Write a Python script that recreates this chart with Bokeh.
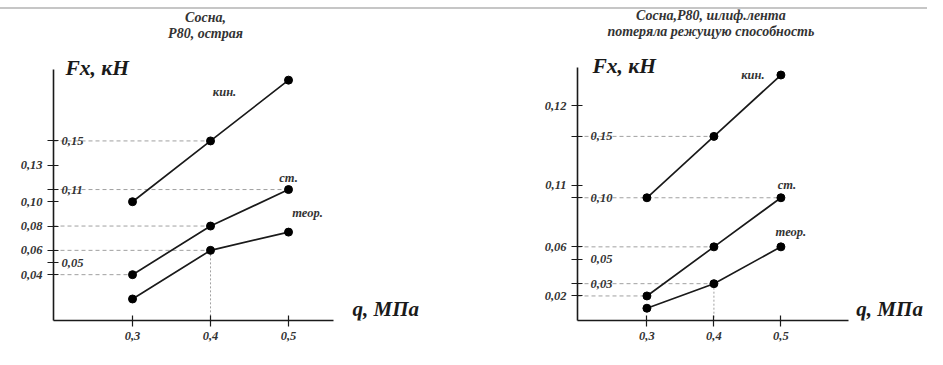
from bokeh.plotting import figure
from bokeh.models import FixedTicker, Range1d
from bokeh.layouts import row
from bokeh.embed import file_html
from bokeh.resources import INLINE
from bokeh.core.properties import value

# ---- data ----
q = [0.3, 0.4, 0.5]
q_tick_text = ["0,3", "0,4", "0,5"]

# left panel: "Сосна, Р80, острая"
a_kin = [0.10, 0.15, 0.20]
a_st = [0.04, 0.08, 0.11]
a_teor = [0.02, 0.06, 0.075]
a_left_vals = [0.04, 0.06, 0.08, 0.10, 0.13]
a_left_text = ["0,04", "0,06", "0,08", "0,10", "0,13"]
a_right_vals = [0.05, 0.11, 0.15]
a_right_text = ["0,05", "0,11", "0,15"]

# right panel: "Сосна,Р80, шлиф.лента потеряла режущую способность"
b_kin = [0.10, 0.15, 0.20]
b_st = [0.02, 0.06, 0.10]
b_teor = [0.01, 0.03, 0.06]
# the label "0,12" sits (out of scale) at the height of ~0.175 in the original drawing
b_left_vals = [0.02, 0.06, 0.11, 0.175]
b_left_text = ["0,02", "0,06", "0,11", "0,12"]
b_right_vals = [0.03, 0.05, 0.10, 0.15]
b_right_text = ["0,03", "0,05", "0,10", "0,15"]

names = ["кин.", "ст.", "теор."]
FONT = "Liberation Serif"
INK = "#1a1a1a"
GREY_TXT = "#333333"
GUIDE = "#a0a0a0"
TICK_FS = "12.5px"


def txt(p, x, y, t, dx, dy, size=TICK_FS, align="center", baseline="middle", color=GREY_TXT):
    p.text(x=x, y=y, text=t, x_offset=dx, y_offset=dy,
           text_font=value(FONT), text_font_style="bold italic",
           text_font_size=size, text_color=color,
           text_align=align, text_baseline=baseline)


def make_panel(width, height, xr, xaxis_end, yr, yaxis_end, borders, kin, st, teor,
               lv, lt, rv, rt, titles, title_off, lab_offs,
               fx_off, q_off, right_lab_dx):
    p = figure(width=width, height=height, output_backend="svg",
               toolbar_location=None, x_range=Range1d(*xr), y_range=Range1d(*yr),
               min_border_left=borders[0], min_border_right=borders[1],
               min_border_top=borders[2], min_border_bottom=borders[3],
               styles={"background": "linear-gradient(#ffffff 0px, #ffffff 7px, #c6c6c6 7px, "
                                     "#c6c6c6 9px, #ffffff 9px)"})
    p.grid.visible = False
    p.outline_line_color = None
    p.background_fill_color = None
    p.border_fill_color = None

    x0 = xr[0]
    y0 = yr[0]

    # axes
    for ax in (p.xaxis, p.yaxis):
        ax.axis_line_color = INK
        ax.axis_line_width = 1.6
        ax.major_tick_line_color = INK
        ax.minor_tick_line_color = INK
        ax.major_tick_line_width = 1.2
        ax.minor_tick_line_width = 1.2
        ax.major_tick_in = 5
        ax.major_tick_out = 6
        ax.minor_tick_in = 5
        ax.minor_tick_out = 6
        ax.major_label_text_font = FONT
        ax.major_label_text_font_style = "bold italic"
        ax.major_label_text_font_size = TICK_FS
        ax.major_label_text_color = GREY_TXT
    p.xaxis.bounds = (x0, xaxis_end)
    p.yaxis.bounds = (y0, yaxis_end)
    p.xaxis.ticker = FixedTicker(ticks=q, minor_ticks=[])
    p.xaxis.major_label_overrides = dict(zip(q, q_tick_text))
    p.xaxis.major_label_standoff = 5
    p.yaxis.ticker = FixedTicker(ticks=lv, minor_ticks=rv)
    p.yaxis.major_label_overrides = dict(zip(lv, lt))
    p.yaxis.major_label_standoff = 5

    # dashed guide lines from the axis to points
    gx = [q[1], q[2], q[1], q[1], q[0]]
    gy = [kin[1], st[2], st[1], teor[1], st[0]]
    p.segment(x0=[x0] * len(gx), y0=gy, x1=gx, y1=gy,
              line_color=GUIDE, line_width=1, line_dash="4 3")
    p.segment(x0=[q[1]], y0=[teor[1]], x1=[q[1]], y1=[y0],
              line_color=GUIDE, line_width=1, line_dash="2 2")

    # labels right of the axis
    txt(p, [x0] * len(rv), rv, rt, right_lab_dx, 0, align="left")

    # series
    for ser, name, off in zip([kin, st, teor], names, lab_offs):
        p.line(q, ser, line_color=INK, line_width=1.7)
        p.scatter(q, ser, size=8, color="black")
        txt(p, [q[2]], [ser[2]], [name], off[0], off[1])

    # titles (two lines)
    for i, t in enumerate(titles):
        txt(p, [q[1]], [yaxis_end], [t], title_off[0], title_off[1] + 16 * i, size="14px")
    # axis names
    txt(p, [x0], [yaxis_end], ["Fx, кН"], fx_off[0], fx_off[1], size="21.5px",
        align="left", baseline="alphabetic", color=INK)
    txt(p, [xaxis_end], [y0], ["q, МПа"], q_off[0], q_off[1], size="21px",
        align="left", baseline="middle", color=INK)
    return p


H = 349          # fits 365 - 2*8
FB = 320         # frame bottom (x axis) in canvas px
# left: frame x 53..470 (axis to 333), y 0..320 (axis from ~69)
p1 = make_panel(470, H, (0.1987, 0.7333), 0.5577, (0.0023, 0.2655), 0.2089, (53, 0, 0, H - FB),
                a_kin, a_st, a_teor, a_left_vals, a_left_text, a_right_vals, a_right_text,
                ["Сосна,", "Р80, острая"], (-5, -52),
                [(-64, 12), (0, -12), (19, -19)], (12, -1), (19, -12), 8)

# right: frame x 107..457 (axis to 378), y 0..320 (axis from ~67)
p2 = make_panel(457, H, (0.1964, 0.7188), 0.6007, (0.0, 0.2607), 0.2062, (107, 0, 0, H - FB),
                b_kin, b_st, b_teor, b_left_vals, b_left_text, b_right_vals, b_right_text,
                ["Сосна,Р80, шлиф.лента", "потеряла режущую способность"], (-3, -52),
                [(-28, 0), (6, -13), (10, -15)], (15, -1), (8, -12), 13)

layout = row(p1, p2)
open("out.html", "w").write(file_html(layout, INLINE))
